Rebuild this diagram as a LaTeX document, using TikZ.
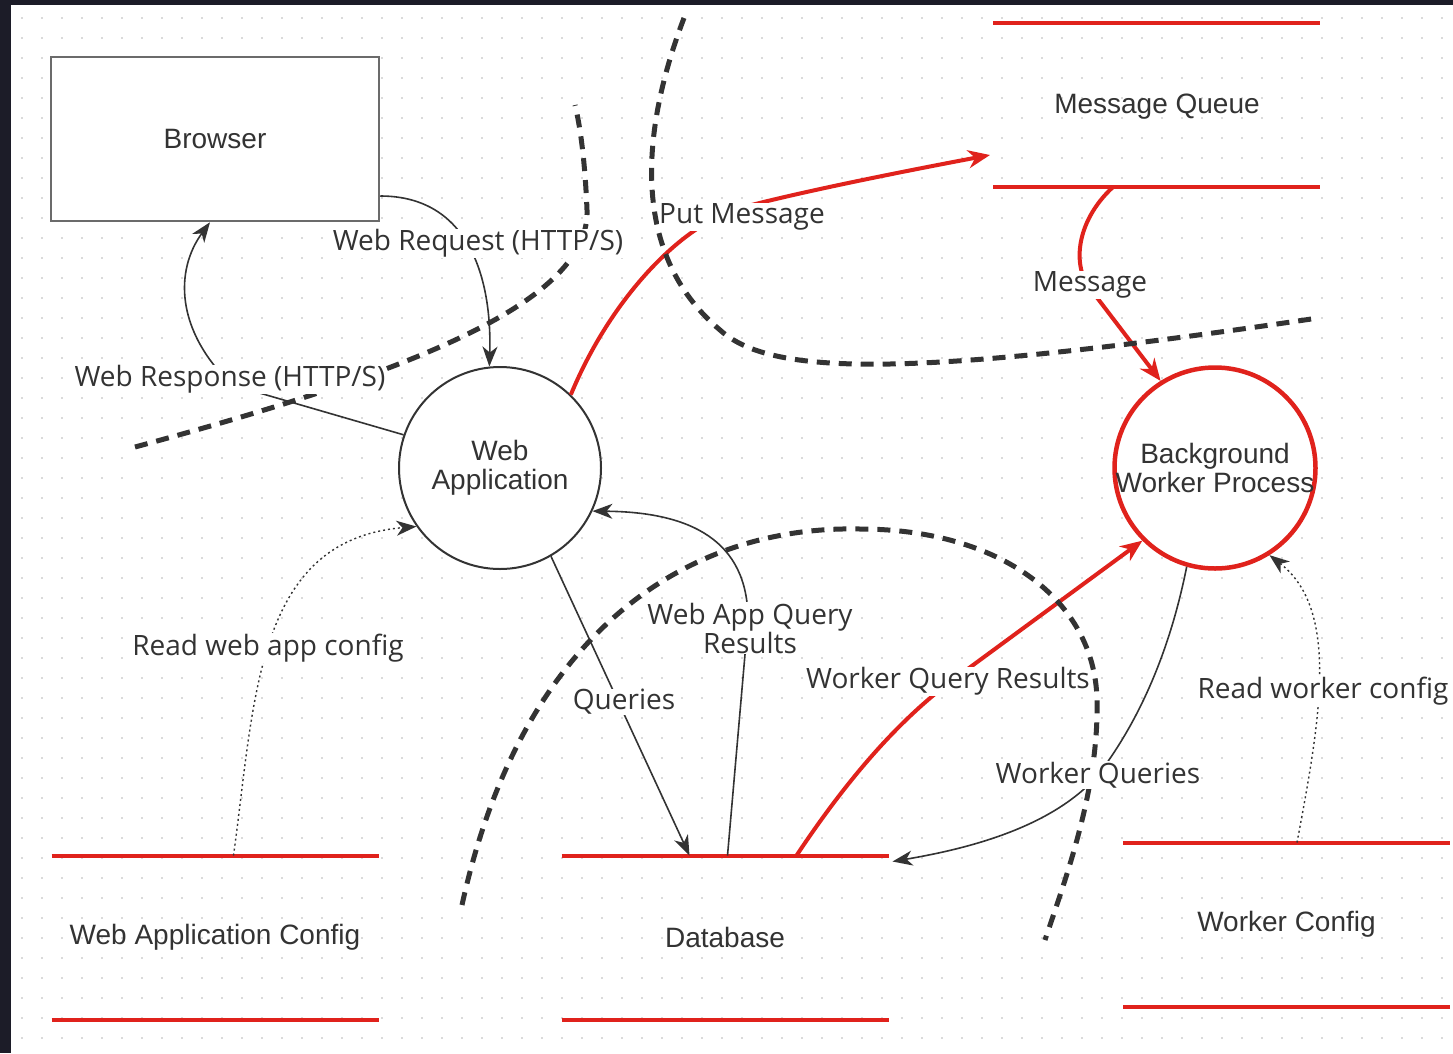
\documentclass[tikz,border=0pt]{standalone}
\usepackage{fontspec}
\setmainfont{Liberation Sans}
\newfontfamily\lblfont{Open Sans}
\usetikzlibrary{arrows.meta}
\definecolor{redc}{RGB}{224,34,28}
\definecolor{ink}{RGB}{51,51,51}
\definecolor{framec}{RGB}{28,28,40}
\definecolor{gridc}{RGB}{218,218,218}
\definecolor{boxc}{RGB}{107,107,107}
\begin{document}
\begin{tikzpicture}[x=1pt,y=-1pt,
  every node/.style={font=\fontsize{28}{29}\selectfont, text=ink},
  store/.style={minimum width=327pt, minimum height=164pt, inner sep=0pt, outer sep=0pt},
  storeline/.style={draw=redc, line width=4pt},
  lbl/.style={font=\lblfont\fontsize{28}{29}\selectfont, fill=white, inner sep=0.5pt, text=ink, align=center},
  conn/.style={draw=ink, line width=1.6pt, -{Stealth[length=20pt,width=15pt,inset=6pt]}},
  rconn/.style={draw=redc, line width=4pt, -{Stealth[length=22pt,width=18pt,inset=7pt]}},
  dconn/.style={draw=ink, line width=1.4pt, dash pattern=on 2pt off 3pt, -{Stealth[length=20pt,width=15pt,inset=6pt]}},
  bound/.style={draw=ink, line width=5pt, dash pattern=on 13pt off 9pt},
]
\useasboundingbox (0,0) rectangle (1453,1053);
\fill[white] (0,0) rectangle (1453,1053);
\foreach \yy in {18,38,...,1048}
  \draw[gridc, line width=2pt, dash pattern=on 2pt off 18pt] (21,\yy) -- (1453,\yy);
\fill[framec] (0,0) rectangle (1453,5);
\fill[framec] (0,0) rectangle (11,1053);

% process nodes
\node[draw=boxc, line width=2.5pt, fill=white, minimum width=328pt, minimum height=164pt, inner sep=0pt] (browser) at (215,139) {Browser};
\node[circle, draw=ink, line width=2pt, fill=white, minimum size=202pt, inner sep=0pt] (wa) at (500,468) {};
\node[align=center] (watext) at (wa.center) {Web\\Application};
\node[circle, draw=redc, line width=4.5pt, fill=white, minimum size=201pt, inner sep=0pt] (bwp) at (1215,468) {};
\node[align=center] (bwptext) at (bwp.center) {Background\\Worker Process};

% data stores
\node[store] (mq) at (1156.5,105) {};
\node (mqtext) at (1157,107) {Message Queue};
\node[store] (wac) at (215,937.5) {Web Application Config};
\node[store] (db) at (725,937.5) {Database};
\node[store] (wc) at (1286.5,924.5) {Worker Config};
\foreach \s in {mq,wac,db,wc}{
  \draw[storeline] (\s.north west) -- (\s.north east);
  \draw[storeline] (\s.south west) -- (\s.south east);
}

% attach points
\coordinate (mqout) at ([xshift=120pt]mq.south west);
\coordinate (mqin) at ([xshift=-3pt,yshift=-50pt]mq.west);
\coordinate (dbq) at ([xshift=128pt]db.north west);
\coordinate (dbr) at ([xshift=166pt]db.north west);
\coordinate (dbw) at ([xshift=235pt]db.north west);
\coordinate (dbin) at ([xshift=4pt,yshift=-6pt]db.north east);
\coordinate (wacout) at ([xshift=182pt]wac.north west);
\coordinate (wcout) at ([xshift=174pt]wc.north west);

% connectors
\draw[conn] ([yshift=-57pt]browser.east) .. controls (470,196) and (492,280) .. (wa.96);
\draw[conn] (wa.161) -- (232,385) .. controls (175,330) and (175,270) .. ([xshift=-5pt]browser.south);
\draw[rconn] (wa.46) .. controls (610,300) and (680,225) .. (740,208) .. controls (800,192) and (900,172) .. (mqin);
\draw[rconn] (mqout) .. controls (1075,222) and (1070,270) .. (1095,295) -- (bwp.122);
\draw[conn] (wa.-60) -- (dbq);
\draw[conn] (dbr) -- (748,620) .. controls (748,540) and (690,512) .. (wa.-25);
\draw[rconn] (dbw) .. controls (850,775) and (900,720) .. (950,682) -- (bwp.225);
\draw[conn] (bwp.-106) .. controls (1170,650) and (1140,720) .. (1098,775) .. controls (1050,830) and (960,850) .. (dbin);
\draw[dconn] (wacout) .. controls (255,700) and (255,540) .. (wa.215);
\draw[dconn] (wcout) .. controls (1320,720) and (1340,610) .. (bwp.-58);

% trust boundaries
\draw[bound] (135,447) .. controls (420,370) and (590,300) .. (587,210) .. controls (585,160) and (580,125) .. (575,105);
\draw[bound] (684,18) .. controls (645,120) and (625,250) .. (720,330) .. controls (770,375) and (900,380) .. (1318,318);
\draw[bound] (462,905) .. controls (520,640) and (680,525) .. (860,529) .. controls (1000,529) and (1095,600) .. (1097,700) .. controls (1099,790) and (1065,880) .. (1045,940);

% labels
\node[lbl] (lreq) at (478,243) {Web Request (HTTP/S)};
\node[lbl] (lresp) at (230,379) {Web Response (HTTP/S)};
\node[lbl] (lput) at (742,217) {Put Message};
\node[lbl] (lmsg) at (1090,285) {Message};
\node[lbl] (lq) at (624,702) {Queries};
\node[lbl] (lwaqr) at (750,628) {Web App Query\\Results};
\node[lbl] (lwqr) at (948,681) {Worker Query Results};
\node[lbl] (lwq) at (1098,775) {Worker Queries};
\node[lbl] (lrwac) at (268,648) {Read web app config};
\node[lbl] (lrwc) at (1323,691) {Read worker config};
\end{tikzpicture}
\end{document}
